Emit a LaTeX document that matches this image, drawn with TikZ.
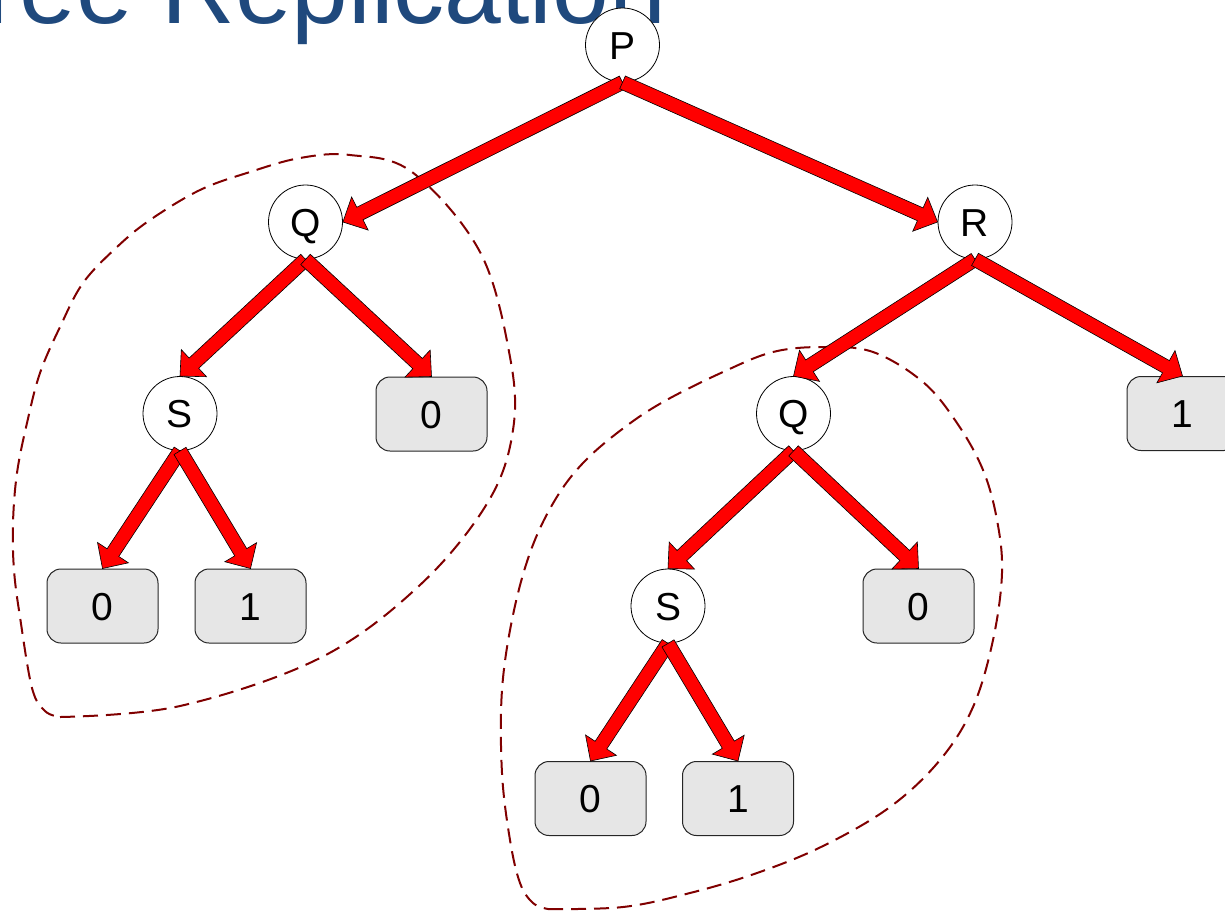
\documentclass[tikz,border=0pt]{standalone}
\usepackage{fontspec}
\setmainfont{Liberation Sans}
\usetikzlibrary{calc}

\definecolor{titleblue}{RGB}{31,73,125}
\definecolor{leafgray}{RGB}{230,230,230}
\definecolor{groupred}{RGB}{128,0,0}
\definecolor{arrowred}{RGB}{255,0,0}

% Block arrow with a square tail at #1 and its tip at #2
\newcommand\blockarrow[2]{%
  \coordinate (ba-s) at (#1);
  \coordinate (ba-t) at (#2);
  \coordinate (ba-h) at ($(ba-t)!19pt!(ba-s)$);
  \draw[arrowbody]
    ($(ba-s)!7pt!90:(ba-t)$) -- ($(ba-h)!7pt!-90:(ba-s)$)
    -- ($(ba-h)!18.5pt!-90:(ba-s)$) -- (ba-t)
    -- ($(ba-h)!18.5pt!90:(ba-s)$) -- ($(ba-h)!7pt!90:(ba-s)$)
    -- ($(ba-s)!7pt!-90:(ba-t)$) -- cycle;
}

\tikzset{
  decision/.style={circle, draw=black, line width=0.8pt, fill=white,
    minimum size=74pt, inner sep=0pt, text height=28pt, text depth=0pt,
    font=\fontsize{39pt}{39pt}\selectfont},
  leaf/.style={rectangle, rounded corners=14pt, draw=black!85, line width=1pt,
    fill=leafgray, minimum width=111pt, minimum height=74pt, inner sep=0pt,
    text height=28pt, text depth=0pt, font=\fontsize{39pt}{39pt}\selectfont},
  arrowbody/.style={fill=arrowred, draw=black, line width=0.6pt, line join=miter},
  group/.style={draw=groupred, line width=2pt, dash pattern=on 15pt off 8pt,
    line join=round},
  heading/.style={text=titleblue, inner sep=0pt, anchor=base west,
    font=\fontsize{102pt}{102pt}\selectfont},
}

\begin{document}
\begin{tikzpicture}[x=1pt, y=-1pt]
\useasboundingbox (0,0) rectangle (1225,911);
\clip (0,0) rectangle (1225,911);

% heading
\node[heading] (title) at (-73,23) {Tree Replication};

% replicated subtrees
\draw[group] plot[smooth, tension=0.6] coordinates {
  (60,717) (180,706) (320,658) (420,585) (488,502) (513,430) (510,357)
  (480,252) (412,172) (350,155) (300,158) (250,172) (200,190) (150,220)
  (117,247) (83,283) (60,327) (40,373) (27,423) (17,473) (13,523)
  (14,570) (20,617) (32,688) (45,711) (60,717)};
\draw[group] plot[smooth, tension=0.6] coordinates {
  (548,909) (623,907) (690,893) (757,873) (823,846) (890,807) (940,760)
  (973,707) (993,640) (1002,573) (997,520) (983,470) (957,423) (923,382)
  (873,352) (823,347) (773,352) (723,372) (663,402) (621,430) (583,463)
  (555,500) (531,550) (513,615) (502,690) (502,773) (510,840) (520,883)
  (533,903) (548,909)};

% decision nodes
\node[decision] (P)  at (622.5,45)  {P};
\node[decision] (Q1) at (305.5,222) {Q};
\node[decision] (R)  at (975,222)   {R};
\node[decision] (S1) at (180,413.5) {S};
\node[decision] (Q2) at (793.5,413.5) {Q};
\node[decision] (S2) at (668,606)   {S};

% leaves
\node[leaf] (q1zero) at (431.5,414)   {0};
\node[leaf] (rone)   at (1182.5,413.5) {1};
\node[leaf] (s1zero) at (102.5,606)   {0};
\node[leaf] (s1one)  at (250.5,606)   {1};
\node[leaf] (q2zero) at (918.5,606)   {0};
\node[leaf] (s2zero) at (590.5,798.5) {0};
\node[leaf] (s2one)  at (738,798.5)   {1};

% edges
\blockarrow{P.south}{Q1.east}
\blockarrow{P.south}{R.west}
\blockarrow{Q1.south}{S1.north}
\blockarrow{Q1.south}{q1zero.north}
\blockarrow{R.south}{Q2.north}
\blockarrow{R.south}{rone.north}
\blockarrow{S1.south}{s1zero.north}
\blockarrow{S1.south}{s1one.north}
\blockarrow{Q2.south}{S2.north}
\blockarrow{Q2.south}{q2zero.north}
\blockarrow{S2.south}{s2zero.north}
\blockarrow{S2.south}{s2one.north}
\end{tikzpicture}
\end{document}
